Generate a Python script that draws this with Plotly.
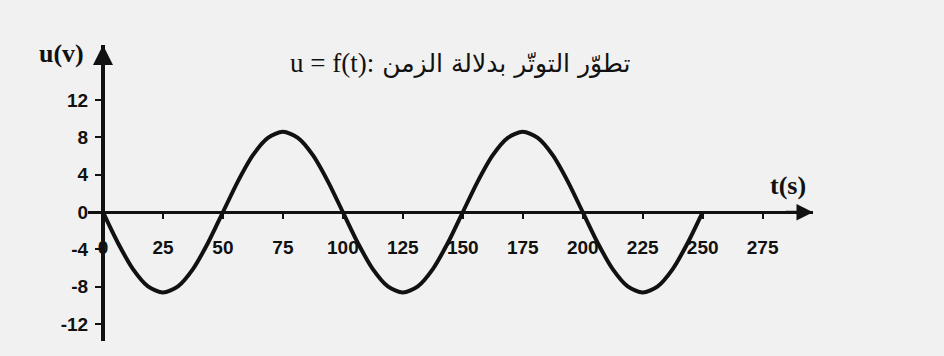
import plotly.graph_objects as go

# values
t_vals = [0, 6.25, 12.5, 18.75, 25, 31.25, 37.5, 43.75, 50, 56.25, 62.5, 68.75,
          75, 81.25, 87.5, 93.75, 100, 106.25, 112.5, 118.75, 125, 131.25, 137.5,
          143.75, 150, 156.25, 162.5, 168.75, 175, 181.25, 187.5, 193.75, 200,
          206.25, 212.5, 218.75, 225, 231.25, 237.5, 243.75, 250]
u_vals = [0, -3.3, -6.1, -7.95, -8.6, -7.95, -6.1, -3.3, 0, 3.3, 6.1, 7.95,
          8.6, 7.95, 6.1, 3.3, 0, -3.3, -6.1, -7.95, -8.6, -7.95, -6.1,
          -3.3, 0, 3.3, 6.1, 7.95, 8.6, 7.95, 6.1, 3.3, 0,
          -3.3, -6.1, -7.95, -8.6, -7.95, -6.1, -3.3, 0]

x_ticks = [0, 25, 50, 75, 100, 125, 150, 175, 200, 225, 250, 275]
y_ticks = [-12, -8, -4, 0, 4, 8, 12]
y_tick_text = ["-12", "-8", "-4", "0", "4", "8", "12"]

title_latin = "u = f(t):"
title_arabic = "تطوّر التوتّر بدلالة الزمن"

X_MIN, X_MAX = -6.25, 296
Y_MIN, Y_MAX = -13.8, 17.9
BG = "#f1f1f1"
INK = "#111111"

tick_font = dict(family="Liberation Sans, Arial", size=19, color=INK, weight="bold")
serif_bold = dict(family="Liberation Serif, Times New Roman", size=26, color=INK, weight="bold")

fig = go.Figure()
fig.add_trace(go.Scatter(
    x=t_vals, y=u_vals, mode="lines",
    line=dict(color=INK, width=4, shape="spline", smoothing=0.8),
    hoverinfo="skip", showlegend=False,
))

fig.update_layout(
    width=944, height=356,
    margin=dict(l=88, r=131, t=45, b=15),
    paper_bgcolor=BG, plot_bgcolor=BG,
    showlegend=False,
    xaxis=dict(
        range=[X_MIN, X_MAX], anchor="free", automargin=False,
        position=(0 - Y_MIN) / (Y_MAX - Y_MIN),
        showgrid=False, zeroline=False,
        showline=True, linecolor=INK, linewidth=3,
        tickvals=x_ticks, ticks="outside", ticklen=5, tickwidth=1.5, tickcolor=INK,
        tickfont=tick_font, ticklabelstandoff=12,
    ),
    yaxis=dict(
        range=[Y_MIN, Y_MAX], anchor="free", automargin=False,
        position=(0 - X_MIN) / (X_MAX - X_MIN),
        showgrid=False, zeroline=False,
        showline=True, linecolor=INK, linewidth=4,
        tickvals=y_ticks, ticktext=y_tick_text,
        ticks="outside", ticklen=6, tickwidth=1.5, tickcolor=INK,
        tickfont=tick_font, ticklabelstandoff=3,
    ),
    annotations=[
        # axis arrowheads
        dict(x=X_MAX, y=0, ax=X_MAX - 12, ay=0, xref="x", yref="y", axref="x", ayref="y",
             showarrow=True, arrowhead=2, arrowsize=1.1, arrowwidth=3, arrowcolor=INK, text=""),
        dict(x=0, y=Y_MAX, ax=0, ay=Y_MAX - 2, xref="x", yref="y", axref="x", ayref="y",
             showarrow=True, arrowhead=2, arrowsize=1.0, arrowwidth=4, arrowcolor=INK, text=""),
        # axis names
        dict(x=-0.037, y=0.97, xref="paper", yref="paper", xanchor="center", yanchor="middle",
             text="u(v)", showarrow=False, font=serif_bold),
        dict(x=285.4, y=2.85, xref="x", yref="y", xanchor="center", yanchor="middle",
             text="t(s)", showarrow=False, font=serif_bold),
        # title
        dict(x=149, y=16.0, xref="x", yref="y", xanchor="center", yanchor="middle",
             text=("<span style='font-family:Liberation Serif;font-size:27px'>" + title_latin
                   + "</span> " + title_arabic),
             showarrow=False,
             font=dict(family="DejaVu Sans", size=25, color=INK)),
    ],
)

fig.write_html("out.html", config={"displayModeBar": False},
               post_script="document.body.style.margin='0';")
